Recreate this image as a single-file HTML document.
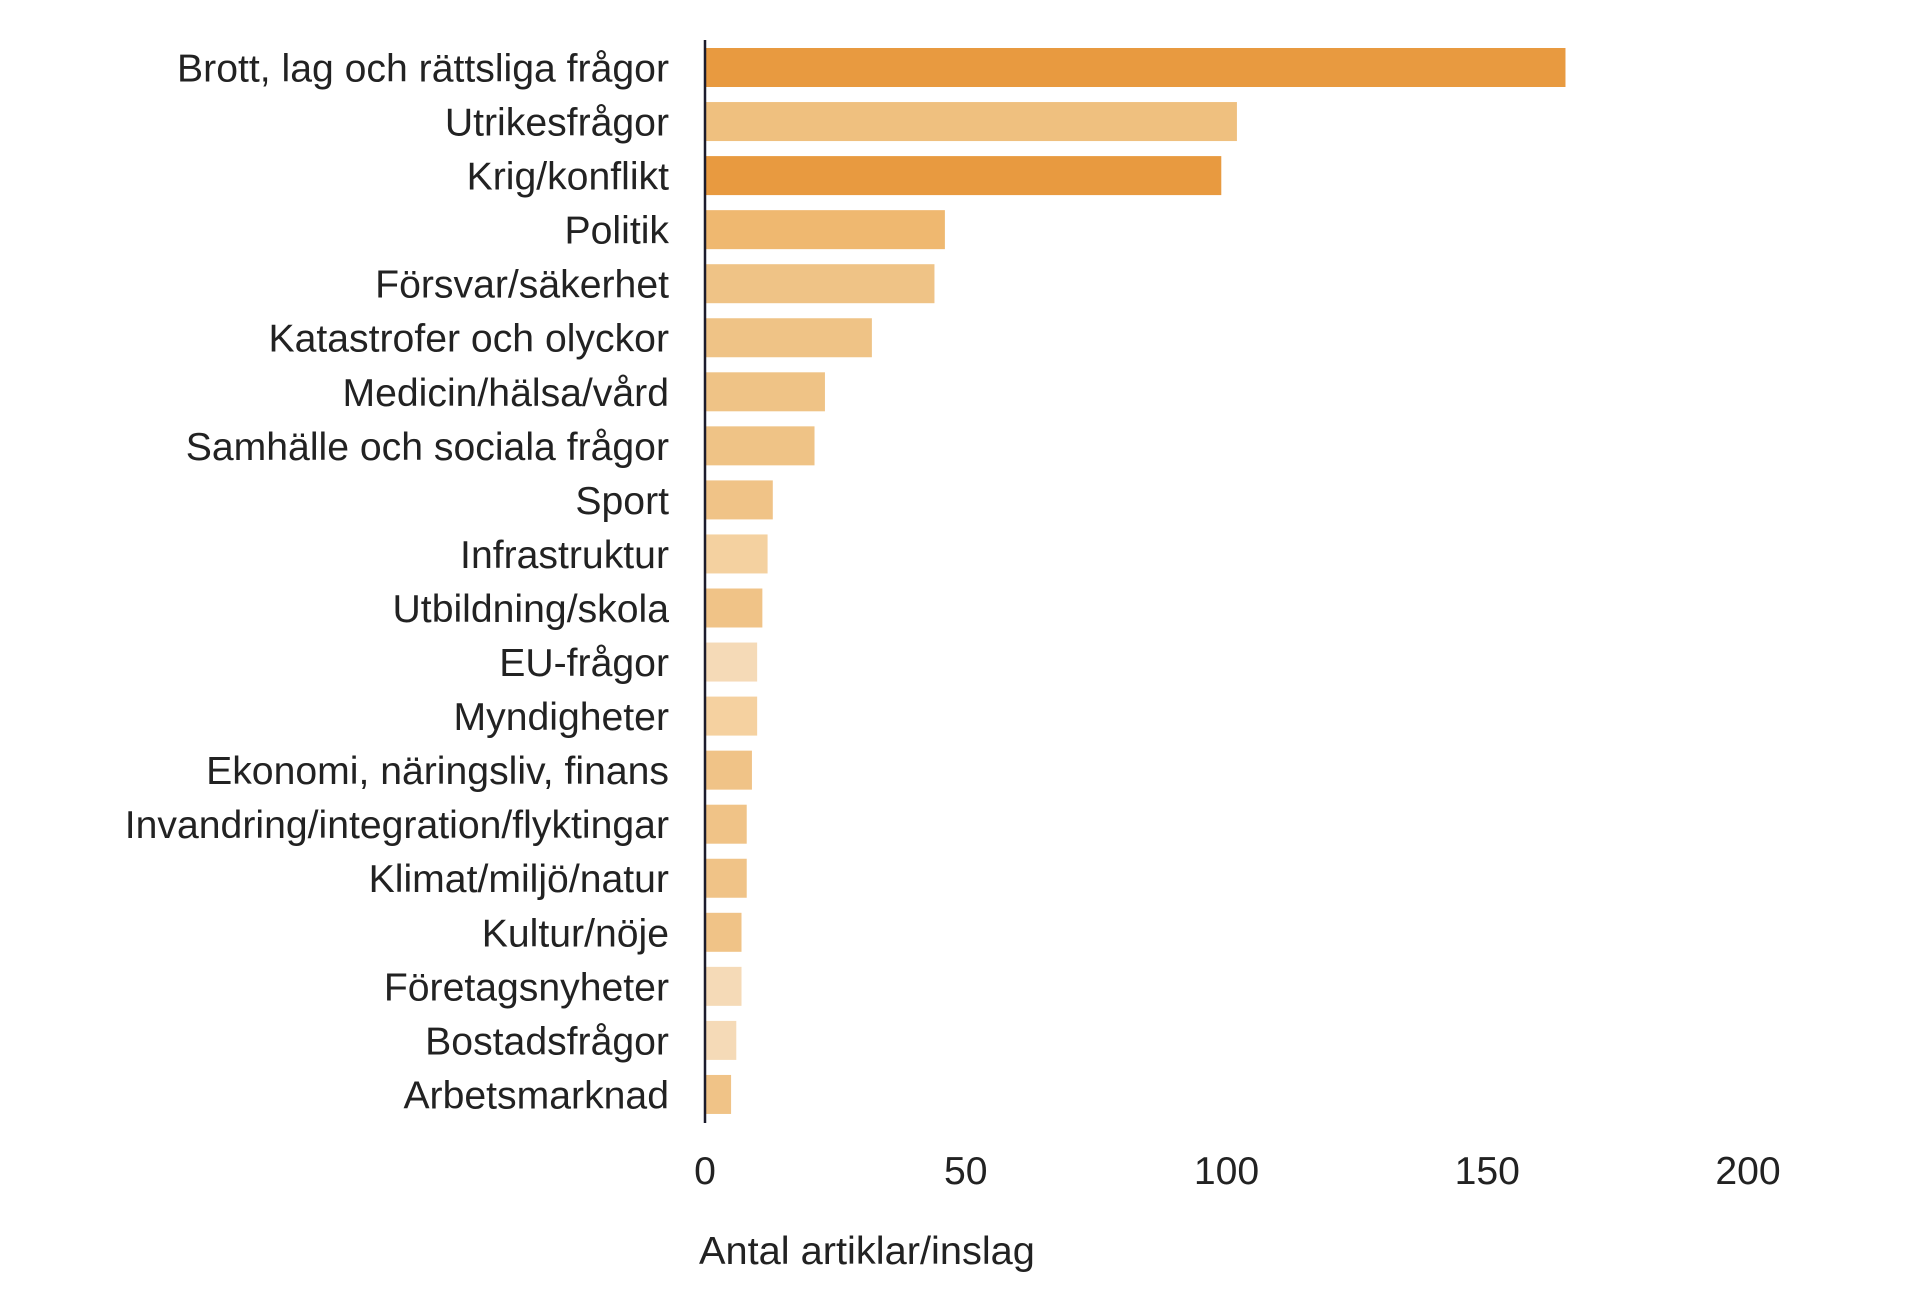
<!DOCTYPE html>
<html><head><meta charset="utf-8"><style>
html,body{margin:0;padding:0;background:#fff;}
svg{display:block;font-family:"Liberation Sans",sans-serif;}
</style></head><body>
<svg id="chart" width="1910" height="1296" viewBox="0 0 1910 1296" xmlns="http://www.w3.org/2000/svg">
<g id="bars"></g>
<g id="labels"></g>
<g id="ticks"></g>
<line x1="705" y1="40" x2="705" y2="1123" stroke="#1c1c2c" stroke-width="2.5"/>
<text id="xtitle" x="699" y="1264" font-size="39" fill="#222">Antal artiklar/inslag</text>
</svg>
<script>
const categories = ["Brott, lag och rättsliga frågor","Utrikesfrågor","Krig/konflikt","Politik","Försvar/säkerhet","Katastrofer och olyckor","Medicin/hälsa/vård","Samhälle och sociala frågor","Sport","Infrastruktur","Utbildning/skola","EU-frågor","Myndigheter","Ekonomi, näringsliv, finans","Invandring/integration/flyktingar","Klimat/miljö/natur","Kultur/nöje","Företagsnyheter","Bostadsfrågor","Arbetsmarknad"];
const values = [165,102,99,46,44,32,23,21,13,12,11,10,10,9,8,8,7,7,6,5];
const colors = ["#e89a40","#efc07f","#e89a40","#efb870","#efc386","#efc386","#efc386","#efc386","#f0c387","#f4d1a0","#f0c387","#f5dab7","#f5d1a0","#f0c387","#f0c387","#f0c387","#f0c387","#f5dab7","#f5dab7","#f0c387"];
const tickValues = [0,50,100,150,200];
const tickLabels = ["0","50","100","150","200"];

const NS = "http://www.w3.org/2000/svg";
const x0 = 705, pxPerUnit = 5.215;
function xScale(v){ return x0 + v * pxPerUnit; }
const rowTop = 48, rowPitch = 54.05, barH = 39;
function yScale(i){ return rowTop + i * rowPitch; }

const barsG = document.getElementById('bars');
const labelsG = document.getElementById('labels');
categories.forEach((c, i) => {
  const r = document.createElementNS(NS, 'rect');
  r.setAttribute('x', x0);
  r.setAttribute('y', yScale(i));
  r.setAttribute('width', xScale(values[i]) - x0);
  r.setAttribute('height', barH);
  r.setAttribute('fill', colors[i]);
  
  
  barsG.appendChild(r);
  const t = document.createElementNS(NS, 'text');
  t.setAttribute('x', 669);
  t.setAttribute('y', yScale(i) + barH / 2 + 14);
  t.setAttribute('text-anchor', 'end');
  t.setAttribute('font-size', '39');
  t.setAttribute('fill', '#222');
  t.textContent = c;
  
  
  labelsG.appendChild(t);
});
const ticksG = document.getElementById('ticks');
tickValues.forEach((v, i) => {
  const t = document.createElementNS(NS, 'text');
  t.setAttribute('x', xScale(v));
  t.setAttribute('y', 1184);
  t.setAttribute('text-anchor', 'middle');
  t.setAttribute('font-size', '39');
  t.setAttribute('fill', '#222');
  t.textContent = tickLabels[i];
  
  
  ticksG.appendChild(t);
});
// condense Liberation Sans to match narrow reference font
const first = labelsG.firstChild;
const w = first.getComputedTextLength();
const f = w > 0 ? 492 / w : 0.85;
labelsG.setAttribute('transform', `translate(669,0) scale(${f},1) translate(-669,0)`);
Array.from(ticksG.children).forEach(t => {
  const x = parseFloat(t.getAttribute('x'));
  t.setAttribute('transform', `translate(${x},0) scale(${f},1) translate(${-x},0)`);
});
const xt = document.getElementById('xtitle');
const tw = xt.getComputedTextLength();
const tf = tw > 0 ? 336 / tw : f;
xt.setAttribute('transform', `translate(699,0) scale(${tf},1) translate(-699,0)`);
</script>
</body></html>
